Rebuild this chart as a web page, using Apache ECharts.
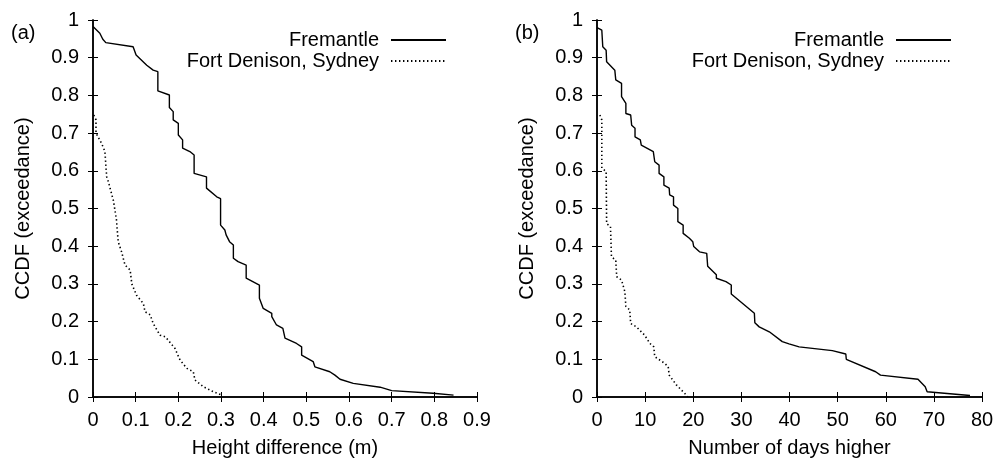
<!DOCTYPE html>
<html>
<head>
<meta charset="utf-8">
<script src="https://cdn.jsdelivr.net/npm/echarts@6/dist/echarts.min.js"></script>
<style>
  html, body { margin: 0; padding: 0; background: #fff; }
  #chart { width: 996px; height: 458px; }
</style>
</head>
<body>
<div id="chart"></div>
<script>
// (a) height difference (m) vs CCDF
var fremHeight = [
    [0, 0.983], [0.016, 0.965], [0.023, 0.949], [0.03, 0.94], [0.094, 0.929], [0.101, 0.907],
    [0.126, 0.88], [0.141, 0.867], [0.152, 0.863], [0.152, 0.812], [0.179, 0.801], [0.179, 0.768],
    [0.188, 0.757], [0.188, 0.735], [0.2, 0.726], [0.2, 0.695], [0.21, 0.682], [0.21, 0.66],
    [0.227, 0.651], [0.237, 0.642], [0.237, 0.593], [0.266, 0.584], [0.266, 0.554], [0.29, 0.531],
    [0.299, 0.526], [0.299, 0.456], [0.309, 0.443], [0.312, 0.43], [0.32, 0.412], [0.329, 0.403],
    [0.329, 0.368], [0.34, 0.359], [0.359, 0.35], [0.359, 0.315], [0.39, 0.297], [0.39, 0.262],
    [0.399, 0.235], [0.399, 0.231], [0.419, 0.222], [0.419, 0.213], [0.43, 0.191], [0.445, 0.182],
    [0.45, 0.156], [0.477, 0.142], [0.489, 0.133], [0.489, 0.111], [0.516, 0.094], [0.52, 0.08],
    [0.555, 0.067], [0.567, 0.058], [0.579, 0.047], [0.61, 0.036], [0.673, 0.026], [0.7, 0.017],
    [0.797, 0.01], [0.845, 0.005]
];
var denisonHeight = [
    [0.002, 0.748], [0.007, 0.735], [0.007, 0.7], [0.02, 0.673], [0.028, 0.651], [0.03, 0.646],
    [0.032, 0.584], [0.036, 0.571], [0.048, 0.52], [0.055, 0.47], [0.059, 0.412], [0.067, 0.385],
    [0.075, 0.35], [0.087, 0.337], [0.091, 0.3], [0.102, 0.27], [0.118, 0.248], [0.122, 0.226],
    [0.134, 0.218], [0.141, 0.195], [0.157, 0.164], [0.169, 0.16], [0.176, 0.151], [0.192, 0.129],
    [0.204, 0.098], [0.22, 0.076], [0.235, 0.067], [0.239, 0.045], [0.259, 0.027], [0.282, 0.014],
    [0.302, 0.005]
];
// (b) number of days higher vs CCDF
var fremDays = [
    [0, 0.98], [1.0, 0.973], [1.2, 0.929], [1.9, 0.92], [2.0, 0.889], [3.7, 0.867], [3.9, 0.841],
    [5.1, 0.832], [5.1, 0.797], [6.0, 0.779], [6.0, 0.752], [7.0, 0.748], [7.2, 0.721], [7.9, 0.713],
    [7.9, 0.69], [9.0, 0.682], [9.2, 0.668], [11.7, 0.651], [12, 0.624], [12.9, 0.615], [12.9, 0.593],
    [13.9, 0.584], [13.9, 0.562], [15, 0.554], [15.1, 0.536], [15.9, 0.531], [15.9, 0.509],
    [16.8, 0.5], [16.8, 0.465], [17.9, 0.456], [17.9, 0.434], [19.2, 0.421], [19.9, 0.412],
    [20.1, 0.399], [21.3, 0.385], [22.8, 0.381], [23, 0.347], [24.8, 0.324], [24.8, 0.315],
    [26.8, 0.306], [27.9, 0.297], [27.9, 0.273], [32.7, 0.222], [32.8, 0.197], [33.7, 0.186],
    [35.8, 0.173], [38.5, 0.147], [39.9, 0.141], [42, 0.133], [48.9, 0.123], [51.7, 0.114],
    [51.8, 0.1], [57.9, 0.067], [58.9, 0.058], [66.7, 0.047], [68.2, 0.027], [68.6, 0.014],
    [77.5, 0.004]
];
var denisonDays = [
    [0.6, 0.748], [1.0, 0.735], [1.0, 0.607], [1.9, 0.598], [2.0, 0.46], [2.8, 0.452], [3.0, 0.372],
    [3.9, 0.363], [4.1, 0.319], [5.1, 0.31], [5.8, 0.279], [6.0, 0.24], [6.8, 0.231], [7.0, 0.195],
    [8.2, 0.186], [9.9, 0.164], [11, 0.142], [11.8, 0.133], [12, 0.107], [14.1, 0.089], [14.8, 0.08],
    [15, 0.058], [16.5, 0.032], [18.2, 0.01], [18.9, 0]
];

var panelNames = ['(a)', '(b)'];
var xNames = ['Height difference (m)', 'Number of days higher'];
var xMax = [0.9, 80];
var xStep = [0.1, 10];
var seriesNames = ['Fremantle', 'Fort Denison, Sydney'];

var FONT = '"Liberation Sans", Arial, sans-serif';
var FS = 20;
var black = '#000';

var chart = echarts.init(document.getElementById('chart'));

// fixed plot boxes, no auto-shrinking for labels
var grids = [
    { left: 93, right: 519, top: 20, bottom: 61, outerBoundsMode: 'none', containLabel: false },
    { left: 597, right: 14, top: 20, bottom: 61, outerBoundsMode: 'none', containLabel: false }
];

var xAxes = [], yAxes = [];
for (var i = 0; i < 2; i++) {
    xAxes.push({
        type: 'value', gridIndex: i, min: 0, max: xMax[i], interval: xStep[i], position: 'bottom',
        name: xNames[i], nameLocation: 'middle', nameGap: 41,
        nameTextStyle: { color: black, fontSize: FS, fontFamily: FONT },
        axisLine: { show: true, lineStyle: { color: black, width: 1.5 } },
        axisTick: { show: true, inside: true, length: 5, lineStyle: { color: black } },
        axisLabel: { color: black, fontSize: FS, fontFamily: FONT, margin: 13 },
        splitLine: { show: false }
    });
    xAxes.push({
        type: 'value', gridIndex: i, min: 0, max: xMax[i], interval: xStep[i], position: 'top',
        axisLine: { show: true, lineStyle: { color: black, width: 1.5 } },
        axisTick: { show: true, inside: true, length: 5, lineStyle: { color: black } },
        axisLabel: { show: false }, splitLine: { show: false }
    });
    yAxes.push({
        type: 'value', gridIndex: i, min: 0, max: 1, interval: 0.1, position: 'left',
        name: 'CCDF (exceedance)', nameLocation: 'middle', nameGap: 60,
        nameTextStyle: { color: black, fontSize: FS, fontFamily: FONT },
        axisLine: { show: true, lineStyle: { color: black, width: 1.5 } },
        axisTick: { show: true, inside: true, length: 5, lineStyle: { color: black } },
        axisLabel: { color: black, fontSize: FS, fontFamily: FONT, margin: 14 },
        splitLine: { show: false }
    });
    yAxes.push({
        type: 'value', gridIndex: i, min: 0, max: 1, interval: 0.1, position: 'right',
        axisLine: { show: true, lineStyle: { color: black, width: 1.5 } },
        axisTick: { show: true, inside: true, length: 5, lineStyle: { color: black } },
        axisLabel: { show: false }, splitLine: { show: false }
    });
}

function lineSeries(name, data, panel, dotted) {
    return {
        type: 'line', name: name, data: data,
        xAxisIndex: panel * 2, yAxisIndex: panel * 2,
        symbol: 'none', silent: true,
        lineStyle: { color: black, width: dotted ? 1.6 : 1.4, type: dotted ? [1.4, 2.6] : 'solid' },
        itemStyle: { color: black }
    };
}

var legendRight = [544, 39];
var legends = [];
for (var p = 0; p < 2; p++) {
    for (var k = 0; k < 2; k++) {
        legends.push({
            data: [seriesNames[k]], right: legendRight[p], top: 25 + k * 21,
            align: 'right', itemWidth: 55, itemHeight: 14, selectedMode: false,
            itemStyle: { opacity: 0 },
            textStyle: { color: black, fontSize: FS, fontFamily: FONT, padding: [0, 7, 0, 0] }
        });
    }
}

chart.setOption({
    animation: false,
    title: [
        { text: panelNames[0], left: 6, top: 18, textStyle: { color: black, fontSize: FS, fontWeight: 'normal', fontFamily: FONT } },
        { text: panelNames[1], left: 510, top: 18, textStyle: { color: black, fontSize: FS, fontWeight: 'normal', fontFamily: FONT } }
    ],
    legend: legends,
    grid: grids,
    xAxis: xAxes,
    yAxis: yAxes,
    series: [
        lineSeries(seriesNames[0], fremHeight, 0, false),
        lineSeries(seriesNames[1], denisonHeight, 0, true),
        lineSeries(seriesNames[0], fremDays, 1, false),
        lineSeries(seriesNames[1], denisonDays, 1, true)
    ]
});
</script>
</body>
</html>
